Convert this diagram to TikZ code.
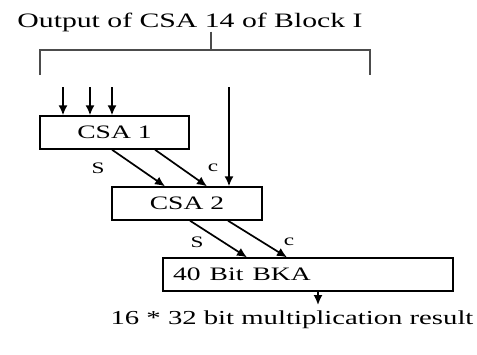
\documentclass[tikz,border=0pt]{standalone}
\usepackage{fontspec}
\setmainfont{Liberation Serif}
\usetikzlibrary{arrows.meta,positioning}
\newcommand{\wide}[1]{\scalebox{1.45}[1]{#1}}

\begin{document}
\begin{tikzpicture}[x=1pt, y=-1pt,
    block/.style={rectangle, draw, line width=1.4pt,
                  minimum height=33pt, inner sep=0pt,
                  font=\fontsize{19}{22}\selectfont},
    lbl/.style={inner sep=0pt, font=\fontsize{16}{18}\selectfont},
    arrow/.style={-{Latex[length=10pt,width=9pt]}, line width=1.7pt},
    brace/.style={line width=1.6pt, black!70},
]
    \useasboundingbox (0,0) rectangle (477,354);
    \node[anchor=base, inner sep=0pt, font=\fontsize{20.5}{24}\selectfont]
         (title) at (190,27) {\wide{Output of CSA 14 of Block I}};
    \coordinate (mid) at (211,50);
    \coordinate (bl) at (40,75);
    \coordinate (br) at (370,75);
    \draw[brace] (title.south -| mid) -- (mid);
    \draw[brace] (bl) |- (mid) -| (br);
    % adders
    \node[block, minimum width=149pt] (csa1) at (114.5,132.5) {\wide{CSA 1}};
    \node[block, minimum width=150pt] (csa2) at (187,203.5) {\wide{CSA 2}};
    \node[block, minimum width=290pt, text width=270pt, align=left]
         (bka) at (308,274.5) {\wide{40 Bit BKA}};
    % inputs
    \coordinate (in1) at (63,87);
    \coordinate (in2) at (90,87);
    \coordinate (in3) at (112,87);
    \coordinate (in4) at (229,87);
    \foreach \i in {in1,in2,in3}
        \draw[arrow] (\i) -- (\i |- csa1.north);
    \draw[arrow] (in4) -- (in4 |- csa2.north);
    % sum and carry
    \draw[arrow] ([xshift=-2.5pt]csa1.south) -- ([xshift=-22pt]csa2.north);
    \draw[arrow] ([xshift=40.5pt]csa1.south) -- ([xshift=20pt]csa2.north);
    \node[lbl] (s1) at (98,168) {\wide{S}};
    \node[lbl] (c1) at (213,168) {\wide{c}};
    \draw[arrow] ([xshift=3pt]csa2.south) -- ([xshift=-61pt]bka.north);
    \draw[arrow] ([xshift=41pt]csa2.south) -- ([xshift=-21pt]bka.north);
    \node[lbl] (s2) at (197,242) {\wide{S}};
    \node[lbl] (c2) at (289,242) {\wide{c}};
    % result
    \coordinate (out) at (318,305);
    \draw[arrow] (bka.south -| out) -- (out);
    \node[anchor=base, inner sep=0pt, font=\fontsize{19.8}{24}\selectfont]
         (res) at (292,324) {\wide{16 * 32 bit multiplication result}};
\end{tikzpicture}
\end{document}
